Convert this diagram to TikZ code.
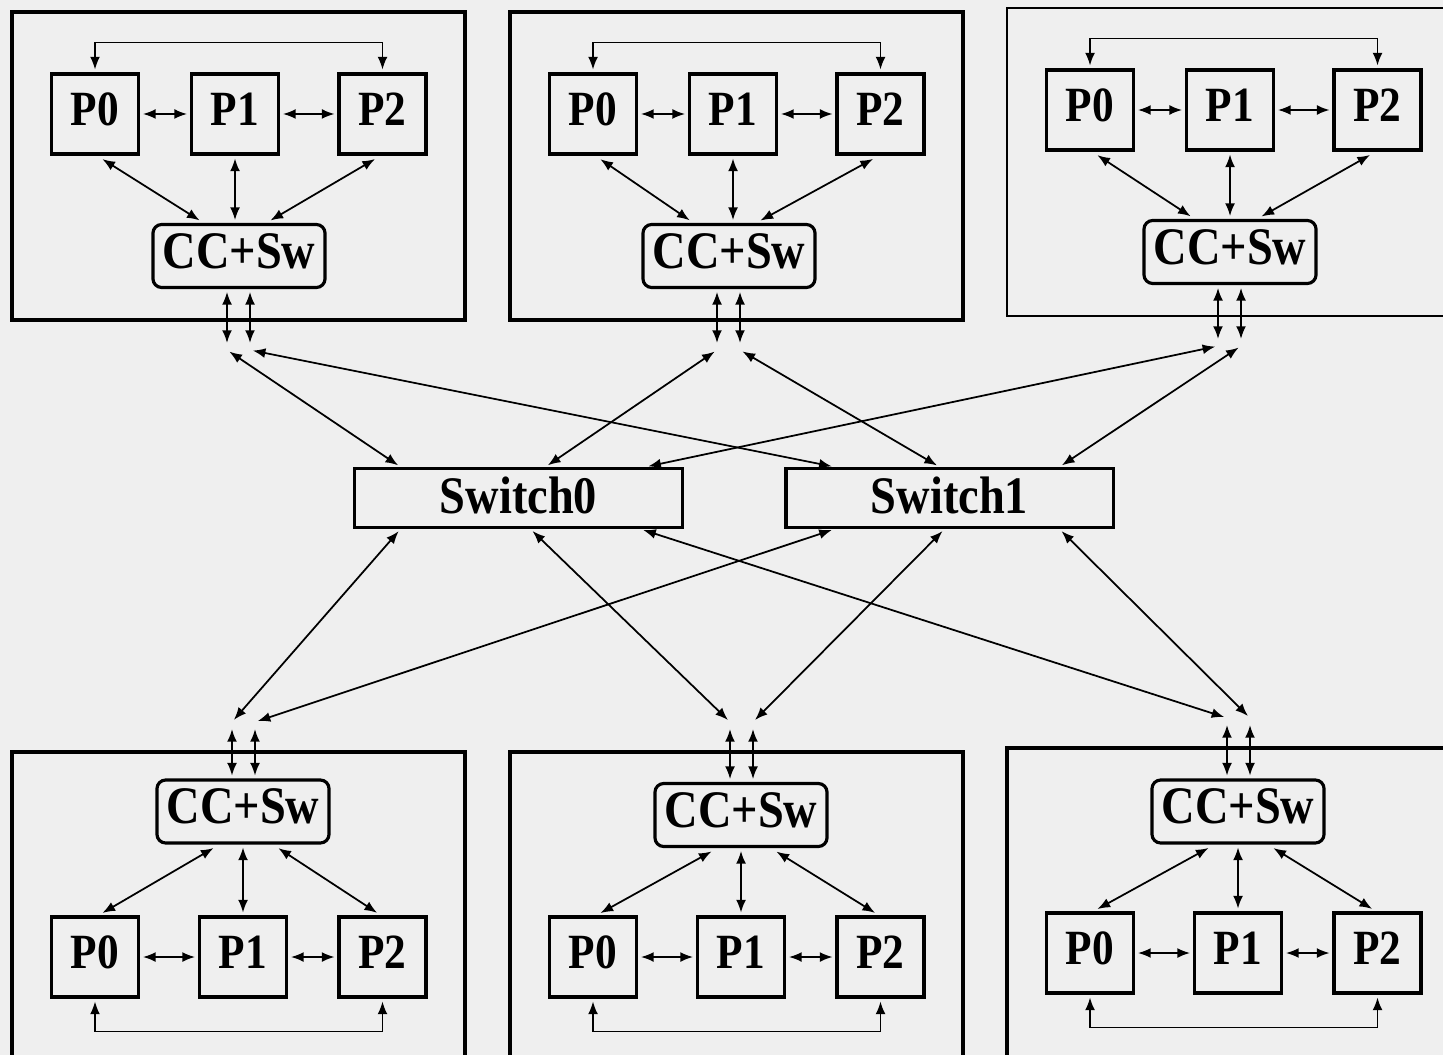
\documentclass[tikz,border=0pt]{standalone}
\usepackage{fontspec}
\usetikzlibrary{arrows.meta,calc}
\newfontfamily\labelfont{Liberation Serif}[FakeStretch=0.88]
\definecolor{bgpaper}{RGB}{239,239,239}
\tikzset{
	>={Latex[length=3.6pt,width=2.8pt]},
	link/.style={<->, line width=0.5pt, shorten >=0.8pt, shorten <=0.8pt},
	proc/.style={draw, line width=0.9pt, minimum width=0.87cm, minimum height=0.8cm, inner sep=0pt,
		text depth=0.09cm, font=\labelfont\bfseries\fontsize{14}{16}\selectfont},
	ccsw/.style={proc, rounded corners=2.5pt, minimum width=1.72cm, minimum height=0.63cm,
		text depth=0.1cm, font=\labelfont\bfseries\fontsize{15}{18}\selectfont},
	switchbox/.style={ccsw, rounded corners=0pt, minimum width=3.27cm, minimum height=0.59cm,
		text depth=0.06cm},
	cluster/.style={draw, line width=0.9pt}
}

\begin{document}
\begin{tikzpicture}[x=0.01cm, y=-0.01cm]
	\fill[bgpaper] (0,0) rectangle (1443,1055);
	\clip (0,0) rectangle (1443,1055);
	% switches
	\node[switchbox] (sw0) at (518.5,498) {Switch0};
	\node[switchbox] (sw1) at (949.5,498) {Switch1};
	% upper clusters
	\foreach \name/\dx/\dy/\ccx/\lw in {A/0/0/239/0.9pt, B/498/0/231/0.9pt, C/995/-4/235/0.5pt} {
		\begin{scope}[shift={(\dx,\dy)}]
			\draw[cluster, line width=\lw] (12,12) rectangle (465,320);
			\node[proc] (t\name p0) at (95,114) {P0};
			\node[proc] (t\name p1) at (235,114) {P1};
			\node[proc] (t\name p2) at (382.5,114) {P2};
			\node[ccsw] (t\name cc) at (\ccx,256) {CC+Sw};
			\coordinate (t\name a) at (\ccx-12,350);
			\coordinate (t\name b) at (\ccx+11,350);
			\draw[link] (t\name p0) -- (t\name p1);
			\draw[link] (t\name p1) -- (t\name p2);
			\draw[link] (t\name p0.north) -- ++(0,-30) -| (t\name p2.north);
			\draw[link] ($(t\name p0.south)+(5,2)$) -- ($(t\name cc.north)+(-37,-1)$);
			\draw[link] (t\name p1.south) -- (t\name p1.south |- t\name cc.north);
			\draw[link] ($(t\name p2.south)+(-5,2)$) -- ($(t\name cc.north)+(29,-1)$);
			\draw[link, shorten >=2pt] (t\name a |- t\name cc.south) -- (t\name a);
			\draw[link, shorten >=2pt] (t\name b |- t\name cc.south) -- (t\name b);
		\end{scope}
	}
	% lower clusters
	\foreach \name/\dx/\dy/\ccy in {A/0/0/811.5, B/498/0/815, C/995/-4/815.5} {
		\begin{scope}[shift={(\dx,\dy)}]
			\draw[cluster] (12,752) rectangle (465,1080);
			\node[proc] (b\name p0) at (95,957) {P0};
			\node[proc] (b\name p1) at (243,957) {P1};
			\node[proc] (b\name p2) at (382.5,957) {P2};
			\node[ccsw] (b\name cc) at (243,\ccy) {CC+Sw};
			\coordinate (b\name a) at (232,722);
			\coordinate (b\name b) at (255,722);
			\draw[link] (b\name p0) -- (b\name p1);
			\draw[link] (b\name p1) -- (b\name p2);
			\draw[link] (b\name p0.south) -- ++(0,33) -| (b\name p2.south);
			\draw[link] ($(b\name cc.south)+(-27,2)$) -- ($(b\name p0.north)+(5,-1)$);
			\draw[link] (b\name p1.north |- b\name cc.south) -- (b\name p1.north);
			\draw[link] ($(b\name cc.south)+(33,2)$) -- ($(b\name p2.north)+(-3,-1)$);
			\draw[link, shorten >=2pt] (b\name a |- b\name cc.north) -- (b\name a);
			\draw[link, shorten >=2pt] (b\name b |- b\name cc.north) -- (b\name b);
		\end{scope}
	}
	% links to the switches
	\foreach \port/\sw/\side/\off in {tAa/sw0/north/-118, tAb/sw1/north/-115,
		tBa/sw0/north/27, tBb/sw1/north/-10, tCa/sw0/north/127, tCb/sw1/north/110,
		bAa/sw0/south/-118, bAb/sw1/south/-115, bBa/sw0/south/12, bBb/sw1/south/-5,
		bCa/sw0/south/122, bCb/sw1/south/110} {
		\draw[link] (\port) -- ($(\sw.\side)+(\off,0)$);
	}
\end{tikzpicture}
\end{document}
